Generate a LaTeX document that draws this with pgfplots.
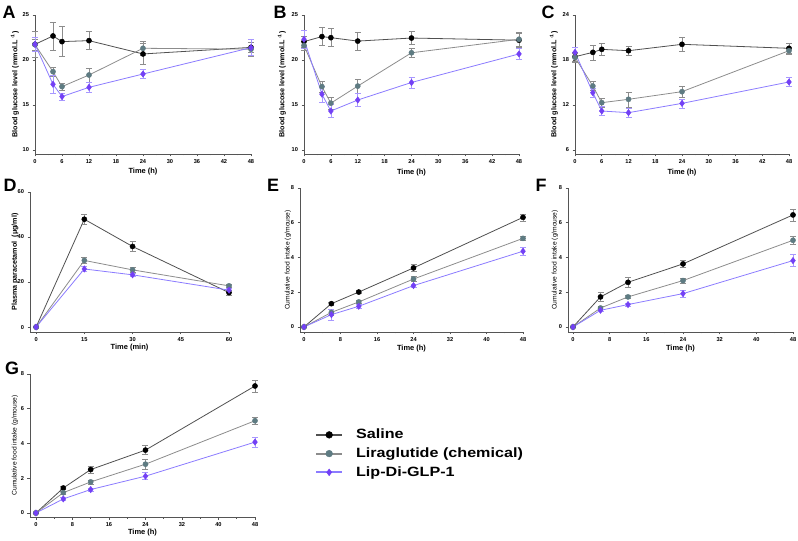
\documentclass[border=0pt]{standalone}
\usepackage{fontspec}
\setmainfont{Liberation Sans}
\newfontfamily\legfont[FakeStretch=1.2]{Liberation Sans}
\usepackage{pgfplots}
\pgfplotsset{compat=1.18}
\definecolor{salline}{HTML}{505050}
\definecolor{lirline}{HTML}{8C8C8C}
\definecolor{lirmark}{HTML}{5E7B82}
\definecolor{lipline}{HTML}{8B7BFF}
\definecolor{lipmark}{HTML}{7340F5}
\definecolor{errg}{HTML}{8C8C8C}
\definecolor{lipbar}{HTML}{A898FF}
\definecolor{axc}{HTML}{555555}
\pgfplotsset{
  panel/.style={scale only axis, anchor=south west, axis lines*=left,
    axis line style={axc,line width=0.8bp}, tick style={axc,line width=0.6bp},
    tick align=outside, major tick length=2.5bp, minor tick length=1.5bp,
    clip=false, ticklabel style={font=\bfseries\fontsize{5.7}{6}\selectfont},
    /pgf/number format/assume math mode=true,
    xlabel style={font=\bfseries\fontsize{7.5}{8}\selectfont},
    ylabel style={font=\bfseries\fontsize{7.2}{8}\selectfont}},
  ylab/.style={ylabel style={at={([xshift=#1]axis description cs:0,0.5)},anchor=center}},
  xlab/.style={xlabel style={at={([yshift=#1]axis description cs:0.5,0)},anchor=center}},
  sal/.style={draw=salline, line width=0.8bp, mark=*, mark size=2.6bp,
    mark options={fill=black,draw=black,line width=0.4bp},
    error bars/.cd, y dir=both, y explicit,
    error bar style={errg,line width=0.6bp},
    error mark options={rotate=90,mark size=3bp,errg,line width=0.6bp}},
  lir/.style={draw=lirline, line width=0.8bp, mark=*, mark size=2.6bp,
    mark options={fill=lirmark,draw=lirmark,line width=0.4bp},
    error bars/.cd, y dir=both, y explicit,
    error bar style={errg,line width=0.6bp},
    error mark options={rotate=90,mark size=3bp,errg,line width=0.6bp}},
  lip/.style={draw=lipline, line width=0.8bp, mark=diamond*, mark size=3.2bp,
    mark options={fill=lipmark,draw=lipmark,line width=0.4bp},
    error bars/.cd, y dir=both, y explicit,
    error bar style={lipbar,line width=0.6bp},
    error mark options={rotate=90,mark size=3bp,lipbar,line width=0.6bp}},
}
\begin{document}
\begin{tikzpicture}
\path[use as bounding box] (0,0) rectangle (798bp,541bp);
\tikzset{plab/.style={font=\bfseries\fontsize{18}{18}\selectfont,inner sep=0pt}}
\node[plab] at (9bp,529bp) {A};
\node[plab] at (280bp,529bp) {B};
\node[plab] at (548bp,529bp) {C};
\node[plab] at (10bp,356bp) {D};
\node[plab] at (273bp,356bp) {E};
\node[plab] at (541bp,356bp) {F};
\node[plab] at (12bp,173bp) {G};

% ---------------- A
\begin{axis}[panel, at={(35bp,387bp)}, width=216bp, height=139bp,
  xmin=0, xmax=48, ymin=9.55, ymax=25, xtick={0,6,...,48}, ytick={10,15,20,25},
  minor x tick num=1, xlabel={Time (h)}, ylabel={Blood glucose level (mmol.L\textsuperscript{ -1})},
  ylab=-20bp, xlab=-18bp]
\addplot[sal] coordinates {(0,21.74)+-(0,1.4) (4,22.67)+-(0,1.55) (6,22.04)+-(0,1.65) (12,22.15)+-(0,1.0) (24,20.67)+-(0,1.2) (48,21.4)+-(0,0.6)};
\addplot[lir] coordinates {(0,21.7)+-(0,0.6) (4,18.7)+-(0,0.5) (6,17.04)+-(0,0.4) (12,18.33)+-(0,0.8) (24,21.3)+-(0,0.8) (48,21.2)+-(0,0.8)};
\addplot[lip] coordinates {(0,21.74)+-(0,0.8) (4,17.3)+-(0,0.95) (6,15.93)+-(0,0.4) (12,16.96)+-(0,0.55) (24,18.44)+-(0,0.5) (48,21.37)+-(0,0.9)};
\end{axis}

% ---------------- B
\begin{axis}[panel, at={(304bp,387bp)}, width=215bp, height=139bp,
  xmin=0, xmax=48, ymin=9.55, ymax=25, xtick={0,6,...,48}, ytick={10,15,20,25},
  minor x tick num=1, xlabel={Time (h)}, ylabel={Blood glucose level (mmol.L\textsuperscript{ -1})},
  ylab=-22bp, xlab=-19bp]
\addplot[sal] coordinates {(0,22.04)+-(0,0.6) (4,22.6)+-(0,1.0) (6,22.48)+-(0,1.0) (12,22.1)+-(0,1.0) (24,22.44)+-(0,0.7) (48,22.2)+-(0,0.8)};
\addplot[lir] coordinates {(0,21.6)+-(0,0.5) (4,17.04)+-(0,0.6) (6,15.2)+-(0,0.7) (12,17.1)+-(0,0.8) (24,20.8)+-(0,0.45) (48,22.3)+-(0,0.8)};
\addplot[lip] coordinates {(0,22.3)+-(0,1.0) (4,16.2)+-(0,0.9) (6,14.33)+-(0,0.7) (12,15.55)+-(0,0.75) (24,17.5)+-(0,0.6) (48,20.67)+-(0,0.6)};
\end{axis}

% ---------------- C
\begin{axis}[panel, at={(575bp,387bp)}, width=214bp, height=139bp,
  xmin=0, xmax=48, ymin=5.47, ymax=24, xtick={0,6,...,48}, ytick={6,12,18,24},
  minor x tick num=1, xlabel={Time (h)}, ylabel={Blood glucose level (mmol.L\textsuperscript{ -1})},
  ylab=-21bp, xlab=-19bp]
\addplot[sal] coordinates {(0,18.44)+-(0,0.6) (4,19.02)+-(0,1.0) (6,19.42)+-(0,0.8) (12,19.24)+-(0,0.6) (24,20.09)+-(0,0.9) (48,19.56)+-(0,0.6)};
\addplot[lir] coordinates {(0,18.36)+-(0,0.6) (4,14.53)+-(0,0.6) (6,12.31)+-(0,0.6) (12,12.76)+-(0,1.0) (24,13.78)+-(0,0.7) (48,19.24)+-(0,0.5)};
\addplot[lip] coordinates {(0,19.02)+-(0,0.7) (4,13.64)+-(0,0.6) (6,11.2)+-(0,0.6) (12,10.98)+-(0,0.6) (24,12.22)+-(0,0.6) (48,15.07)+-(0,0.6)};
\end{axis}

% ---------------- D
\begin{axis}[panel, at={(30bp,209bp)}, width=199bp, height=140bp,
  xmin=-1.9, xmax=60, ymin=-2.2, ymax=60, xtick={0,15,...,60}, ytick={0,20,40,60},
  xlabel={Time (min)}, ylabel={Plasma paracetamol\ \ (μg/ml)},
  ylab=-15bp, xlab=-16bp]
\addplot[sal] coordinates {(0,0)+-(0,0) (15,47.9)+-(0,2.4) (30,35.8)+-(0,2.2) (60,15.3)+-(0,1.2)};
\addplot[lir] coordinates {(0,0)+-(0,0) (15,29.6)+-(0,1.5) (30,25.4)+-(0,1.2) (60,18.3)+-(0,0.8)};
\addplot[lip] coordinates {(0,0)+-(0,0) (15,25.8)+-(0,1.0) (30,23.2)+-(0,0.8) (60,16.4)+-(0,0.8)};
\end{axis}

% ---------------- E
\begin{axis}[panel, at={(300bp,209bp)}, width=223bp, height=144bp,
  xmin=-0.88, xmax=48, ymin=-0.29, ymax=8, xtick={0,8,...,48}, ytick={0,2,4,6,8},
  minor x tick num=1, xlabel={Time (h)}, ylabel={Cumulative food intake (g/mouse)},
  ylabel style={font=\fontsize{6.7}{7}\selectfont},
  ylab=-12bp, xlab=-17bp]
\addplot[sal] coordinates {(0,0)+-(0,0) (6,1.34)+-(0,0.1) (12,2.01)+-(0,0.08) (24,3.4)+-(0,0.2) (48,6.31)+-(0,0.2)};
\addplot[lir] coordinates {(0,0)+-(0,0) (6,0.84)+-(0,0.15) (12,1.44)+-(0,0.1) (24,2.76)+-(0,0.15) (48,5.1)+-(0,0.12)};
\addplot[lip] coordinates {(0,0)+-(0,0) (6,0.71)+-(0,0.3) (12,1.19)+-(0,0.1) (24,2.38)+-(0,0.1) (48,4.36)+-(0,0.25)};
\end{axis}

% ---------------- F
\begin{axis}[panel, at={(568bp,209bp)}, width=225bp, height=144bp,
  xmin=-1.09, xmax=48, ymin=-0.29, ymax=8, xtick={0,8,...,48}, ytick={0,2,4,6,8},
  minor x tick num=1, xlabel={Time (h)}, ylabel={Cumulative food intake (g/mouse)},
  ylabel style={font=\fontsize{6.7}{7}\selectfont},
  ylab=-13bp, xlab=-17bp]
\addplot[sal] coordinates {(0,0)+-(0,0) (6,1.73)+-(0,0.28) (12,2.57)+-(0,0.3) (24,3.63)+-(0,0.18) (48,6.45)+-(0,0.35)};
\addplot[lir] coordinates {(0,0)+-(0,0) (6,1.09)+-(0,0.1) (12,1.73)+-(0,0.1) (24,2.67)+-(0,0.15) (48,4.99)+-(0,0.25)};
\addplot[lip] coordinates {(0,0)+-(0,0) (6,0.96)+-(0,0.08) (12,1.29)+-(0,0.08) (24,1.92)+-(0,0.2) (48,3.82)+-(0,0.35)};
\end{axis}

% ---------------- G
\begin{axis}[panel, at={(30bp,24bp)}, width=225bp, height=143bp,
  xmin=-1.3, xmax=48, ymin=-0.23, ymax=8, xtick={0,8,...,48}, ytick={0,2,4,6,8},
  minor x tick num=1, xlabel={Time (h)}, ylabel={Cumulative food intake (g/mouse)},
  ylabel style={font=\fontsize{6.7}{7}\selectfont},
  ylab=-15bp, xlab=-16bp,
  legend style={at={(1.267,0.615)}, anchor=north west, draw=none, fill=none,
    inner sep=0pt, column sep=13bp, row sep=7.5bp, nodes={inner sep=0pt},
    font=\legfont\bfseries\fontsize{13.5}{14}\selectfont},
  legend cell align=left,
  legend image code/.code={\draw[mark repeat=2,mark phase=2,#1,line width=1.8bp,mark size=3.4bp] plot coordinates {(0bp,0bp) (13bp,0bp) (26bp,0bp)};}]
\addplot[sal] coordinates {(0,0)+-(0,0) (6,1.44)+-(0,0.1) (12,2.5)+-(0,0.2) (24,3.62)+-(0,0.27) (48,7.31)+-(0,0.35)};
\addlegendentry{Saline}
\addplot[lir] coordinates {(0,0)+-(0,0) (6,1.17)+-(0,0.1) (12,1.79)+-(0,0.12) (24,2.81)+-(0,0.27) (48,5.31)+-(0,0.18)};
\addlegendentry{Liraglutide (chemical)}
\addplot[lip] coordinates {(0,0)+-(0,0) (6,0.81)+-(0,0.08) (12,1.35)+-(0,0.08) (24,2.12)+-(0,0.2) (48,4.08)+-(0,0.3)};
\addlegendentry{Lip-Di-GLP-1}
\end{axis}
\end{tikzpicture}
\end{document}
